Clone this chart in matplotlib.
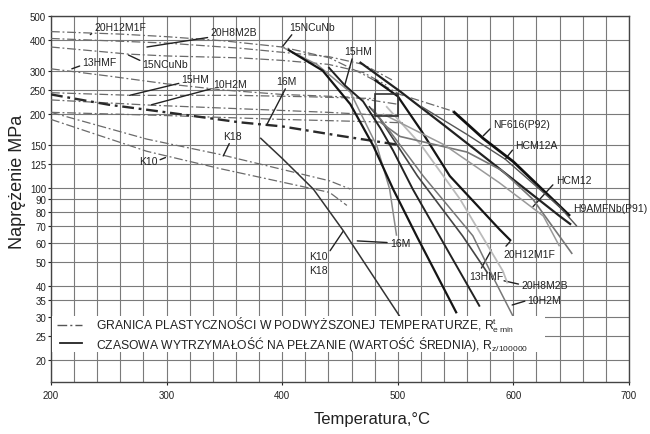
import matplotlib
matplotlib.use("Agg")
import matplotlib.pyplot as plt
from matplotlib.lines import Line2D
from matplotlib.patches import Rectangle

plt.rcParams["font.family"] = ["Liberation Sans", "DejaVu Sans"]
plt.rcParams["mathtext.fontset"] = "custom"
plt.rcParams["mathtext.rm"] = "Liberation Sans"

# ── granica plastyczności R_e^t (linie kreska-kropka) ──
T_re_20H12M1F = [200, 260, 300, 350, 400, 441, 470, 502, 548]
R_re_20H12M1F = [432, 422, 412, 396, 374, 338, 290, 240, 205]
T_re_20H8M2B = [200, 300, 363, 400, 440, 470, 495]
R_re_20H8M2B = [405, 388, 370, 356, 342, 318, 275]
T_re_15NCuNb = [200, 267, 300, 363, 400, 440, 470, 490]
R_re_15NCuNb = [374, 350, 344, 338, 330, 318, 295, 262]
T_re_13HMF = [200, 250, 300, 350, 400, 460, 500]
R_re_13HMF = [305, 285, 265, 250, 240, 234, 219]
T_re_15HM = [200, 270, 360, 420, 480]
R_re_15HM = [244, 238, 238, 235, 231]
T_re_10H2M = [200, 287, 363, 440, 500]
R_re_10H2M = [228, 217, 210, 203, 196]
T_re_16M = [200, 250, 300, 363, 400, 450, 500]
R_re_16M = [240, 218, 203, 185, 178, 163, 150]
T_re_extra = [200, 300, 400, 476, 505]
R_re_extra = [203, 197, 190, 186, 184]
T_re_K18 = [200, 283, 346, 441, 459]
R_re_K18 = [203, 158, 137, 107, 99]
T_re_K10 = [200, 283, 346, 441, 456]
R_re_K10 = [190, 141, 120, 96, 85]

# ── czasowa wytrzymałość na pełzanie R_z/100000 (linie ciągłe) ──
T_rz_K = [381, 400, 427, 453, 480, 503]
R_rz_K = [160, 132, 99, 67, 43, 29.5]
T_rz_15NCuNb = [400, 430, 459, 482, 493, 499]
R_rz_15NCuNb = [374, 318, 245, 148, 99, 64]
T_rz_16M = [405, 435, 459, 479, 496, 517, 551]
R_rz_16M = [365, 300, 219, 148, 99, 63, 31]
T_rz_15HM = [440, 454, 470, 485, 496, 513, 536, 571]
R_rz_15HM = [310, 262, 225, 175, 142, 99, 64, 33]
T_rz_13HMF = [475, 485, 517, 556, 578]
R_rz_13HMF = [215, 190, 112, 64, 45]
T_rz_10H2M = [478, 487, 522, 565, 583, 600]
R_rz_10H2M = [210, 186, 112, 64, 43, 30]
T_rz_20H8M2B = [490, 520, 554, 591, 595]
R_rz_20H8M2B = [215, 150, 90, 46, 41]
T_rz_20H12M1F = [480, 500, 520, 545, 588, 598]
R_rz_20H12M1F = [275, 236, 172, 112, 68, 61]
T_rz_P91 = [467, 502, 540, 574, 640, 650]
R_rz_P91 = [325, 247, 180, 135, 77, 71]
T_rz_P92 = [548, 574, 600, 649]
R_rz_P92 = [205, 159, 128, 77]
T_rz_HCM12A = [520, 560, 593, 640, 655]
R_rz_HCM12A = [215, 165, 131, 84, 70]
T_rz_HCM12 = [485, 502, 560, 590, 617, 651]
R_rz_HCM12 = [185, 162, 140, 118, 90, 54]
T_rz_extra = [487, 540, 588, 626, 640]
R_rz_extra = [200, 150, 105, 77, 58]

y_ticks = [500, 400, 300, 250, 200, 150, 125, 100, 90, 80, 70, 60, 50, 40, 35, 30, 25, 20]
x_ticks = [200, 300, 400, 500, 600, 700]

# opisy: tekst, środek tekstu, koniec odnośnika, punkt startu na ramce tekstu
labels = [
    ("20H12M1F", (260, 452), (234, 420), (0.0, 0.0)),
    ("20H8M2B", (358, 432), (283, 374), (0.07, 0.0)),
    ("15NCuNb", (299, 320), (267, 347), (0.0, 0.7)),
    ("13HMF", (242, 325), (218, 305), (0.0, 0.2)),
    ("15HM", (325, 278), (268, 238), (0.0, 0.1)),
    ("10H2M", (355, 264), (287, 218), (0.0, 0.1)),
    ("16M", (404, 272), (387, 182), (0.5, 0.0)),
    ("K18", (357, 163), (349, 135), (0.4, 0.0)),
    ("K10", (284, 129), (299, 133), (1.0, 0.5)),
    ("15NCuNb", (426, 451), (400, 374), (0.1, 0.0)),
    ("15HM", (466, 360), (454, 260), (0.3, 0.0)),
    ("16M", (502, 60), (465, 61), (0.0, 0.5)),
    ("K10\nK18", (431, 49.5), (453, 67), (1.0, 0.85)),
    ("20H12M1F", (614, 54), (597, 60.5), (0.0, 1.0)),
    ("13HMF", (577, 44), (581, 56), (0.3, 1.0)),
    ("20H8M2B", (627, 40.5), (592, 42), (0.0, 0.5)),
    ("10H2M", (627, 35), (599, 33.5), (0.0, 0.5)),
    ("NF616(P92)", (607, 182), (574, 163), (0.0, 0.3)),
    ("HCM12A", (620, 150), (593, 131), (0.0, 0.3)),
    ("HCM12", (652, 108), (617, 84), (0.0, 0.3)),
    ("H9AMFNb(P91)", (684, 83), None, None),
]

fig = plt.figure(figsize=(6.5, 4.35), dpi=100, facecolor="white")
ax = fig.add_axes([0.0785, 0.1195, 0.889, 0.8415])
ax.set_yscale("log")
ax.set_xlim(200, 700)
ax.set_ylim(16.3, 500)

dashdot = (0, (7, 2.2, 1.5, 2.2))
thin_re = dict(color="#6a6a6a", lw=0.9, ls=dashdot)
for T, R in [(T_re_20H12M1F, R_re_20H12M1F), (T_re_20H8M2B, R_re_20H8M2B),
             (T_re_15NCuNb, R_re_15NCuNb), (T_re_13HMF, R_re_13HMF),
             (T_re_15HM, R_re_15HM), (T_re_10H2M, R_re_10H2M),
             (T_re_extra, R_re_extra), (T_re_K18, R_re_K18), (T_re_K10, R_re_K10)]:
    ax.plot(T, R, zorder=3, **thin_re)
ax.plot(T_re_16M, R_re_16M, color="#2a2a2a", lw=1.7, ls=(0, (5, 2, 1.2, 2)), zorder=3)

creep = [
    (T_rz_K, R_rz_K, "#333333", 1.1),
    (T_rz_15NCuNb, R_rz_15NCuNb, "#8a8a8a", 1.1),
    (T_rz_16M, R_rz_16M, "#151515", 1.6),
    (T_rz_15HM, R_rz_15HM, "#222222", 1.4),
    (T_rz_13HMF, R_rz_13HMF, "#444444", 1.2),
    (T_rz_10H2M, R_rz_10H2M, "#777777", 1.1),
    (T_rz_20H8M2B, R_rz_20H8M2B, "#bbbbbb", 1.3),
    (T_rz_20H12M1F, R_rz_20H12M1F, "#151515", 1.6),
    (T_rz_P91, R_rz_P91, "#222222", 1.6),
    (T_rz_P92, R_rz_P92, "#111111", 2.0),
    (T_rz_HCM12A, R_rz_HCM12A, "#555555", 1.0),
    (T_rz_HCM12, R_rz_HCM12, "#777777", 1.2),
    (T_rz_extra, R_rz_extra, "#9a9a9a", 1.1),
]
for T, R, c, lw in creep:
    ax.plot(T, R, color=c, lw=lw, solid_capstyle="butt", zorder=4)

ax.add_patch(Rectangle((480, 196), 20, 45, fill=False, ec="#333", lw=1.2, zorder=5))

for txt, pos, tip, rel in labels:
    if tip is None:
        ax.text(pos[0], pos[1], txt, fontsize=7.5, color="#222", ha="center", va="center")
        continue
    ax.annotate(txt, xy=tip, xytext=pos, fontsize=7.5, color="#222",
                ha="center", va="center", linespacing=1.5,
                arrowprops=dict(arrowstyle="-", color="#222", lw=1.0,
                                relpos=rel, shrinkA=0, shrinkB=0))

# siatka
for v in range(200, 701, 20):
    ax.axvline(v, color="#7a7a7a", lw=0.8, zorder=1)
for v in y_ticks:
    ax.axhline(v, color="#7a7a7a", lw=0.8, zorder=1)

ax.set_xticks(x_ticks)
ax.set_xticklabels([str(v) for v in x_ticks])
ax.set_yticks(y_ticks)
ax.set_yticklabels([str(v) for v in y_ticks])
ax.minorticks_off()
ax.tick_params(labelsize=7, colors="#222", length=2, width=0.8, pad=1.5)
ax.tick_params(axis="x", pad=4)
for s in ax.spines.values():
    s.set_color("#444")
    s.set_linewidth(1.0)

ax.set_ylabel("Naprężenie MPa", fontsize=13, color="#222")
ax.yaxis.label.set_va("center")
ax.yaxis.set_label_coords(-0.058, 0.55)
ax.set_xlabel("Temperatura,°C", fontsize=12, color="#222")
ax.xaxis.label.set_va("center")
ax.xaxis.set_label_coords(0.555, -0.10)

# legenda rysowana ręcznie na białym polu
tr = ax.transAxes
ax.add_patch(Rectangle((0.002, 0.083), 0.853, 0.097, transform=tr,
                       facecolor="white", edgecolor="none", zorder=6))
ax.add_line(Line2D([0.010, 0.054], [0.157, 0.157], transform=tr, color="#555",
                   lw=1.0, ls=dashdot, zorder=7))
ax.add_line(Line2D([0.015, 0.054], [0.106, 0.106], transform=tr, color="#222",
                   lw=1.3, zorder=7))
ax.text(0.078, 0.157, r"GRANICA PLASTYCZNOŚCI W PODWYŻSZONEJ TEMPERATURZE, R$^{\mathrm{t}}_{\mathrm{e\,min}}$",
        transform=tr, fontsize=8.7, color="#222", va="center", ha="left", zorder=7)
ax.text(0.078, 0.106, r"CZASOWA WYTRZYMAŁOŚĆ NA PEŁZANIE (WARTOŚĆ ŚREDNIA), R$_{\mathrm{z/100000}}$",
        transform=tr, fontsize=8.7, color="#222", va="center", ha="left", zorder=7)

plt.savefig("out.png", dpi=100, facecolor="white")
